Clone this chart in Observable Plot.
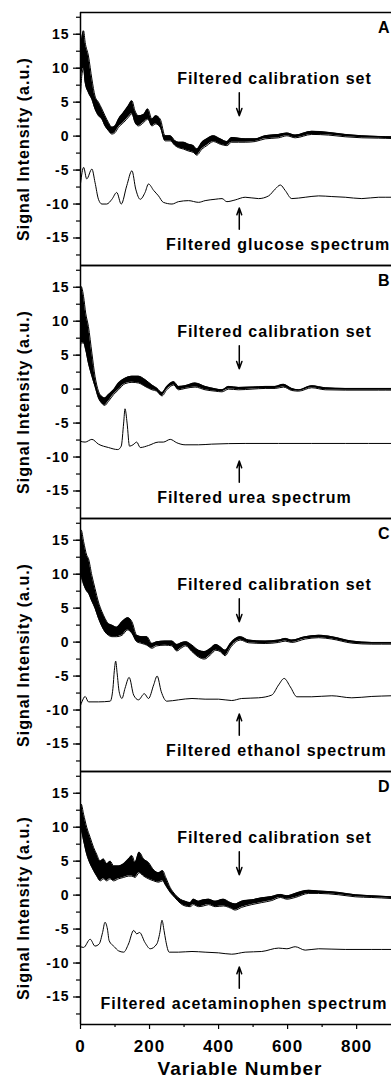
<!DOCTYPE html>
<html><head><meta charset="utf-8">
<script src="https://cdn.jsdelivr.net/npm/d3@7"></script>
<script src="https://cdn.jsdelivr.net/npm/@observablehq/plot@0.6"></script>
<style>
html,body{margin:0;padding:0;background:#fff;}
#chart svg{display:block;}
</style></head><body><div id="chart"></div>
<script>
// ---------- data ----------
const panels = ["A", "B", "C", "D"];
const calibLabel = "Filtered calibration set";
const analyteLabels = ["Filtered glucose spectrum", "Filtered urea spectrum", "Filtered ethanol spectrum", "Filtered acetaminophen spectrum"];
const yTitle = "Signal Intensity (a.u.)";
const xTitle = "Variable Number";
const yMajorTicks = [-15, -10, -5, 0, 5, 10, 15];
const yMinorTicks = [-17.5, -15, -12.5, -10, -7.5, -5, -2.5, 0, 2.5, 5, 7.5, 10, 12.5, 15, 17.5];
const xMajorTicks = [0, 200, 400, 600, 800];
const xMinorTicks = [100, 300, 500, 700];

// Panel A: calibration band (upper / lower envelope) and glucose spectrum
const calA_x = [0,4,9,13.5,23,33,42,52,62,71,81,91,100,110,125,139,149,158,168,183,195,207,218,231,245,260,274,284,298,313,327,337,352,366,385,405,424,438,458,477,506,535,574,598,622,670,719,767,815,864,901];
const calA_hi = [13,14.5,15.5,13.8,11.8,8.4,5.9,5.0,4.0,3.0,2.0,1.3,1.5,2.5,3.5,4.5,5.2,3.7,3.0,3.2,4.0,2.5,3.0,2.5,0.05,0.05,-0.7,-0.9,-0.9,-1.2,-1.4,-1.9,-0.9,-0.4,0.05,-0.4,-0.8,-0.2,-0.3,-0.4,-0.4,0.05,0.25,0.45,0.15,0.7,0.55,0.25,0.05,-0.05,-0.1];
const calA_lo = [6,9,10,7.9,6.4,5.4,4.0,3.0,2.5,1.5,0.8,0.3,0.5,1.3,2.0,2.8,3.3,2.0,1.5,2.0,2.5,1.5,1.8,1.3,-0.7,-0.7,-1.4,-1.7,-1.9,-2.2,-2.4,-2.8,-1.9,-1.4,-0.8,-1.2,-1.4,-0.9,-0.9,-0.9,-0.8,-0.4,-0.25,0.05,-0.25,0.25,0.15,-0.1,-0.25,-0.3,-0.35];
const specA_x = [0,9,18,33,42,52,62,76,91,105,118,134,149,160,173,187,197,212,226,240,265,284,313,342,361,390,410,424,448,477,516,545,564,579,593,612,651,690,728,767,815,864,901];
const specA_y = [-7.0,-4.6,-6.3,-4.85,-6.8,-9.3,-10.0,-10.0,-9.3,-8.3,-10.0,-7.3,-5.1,-7.8,-9.3,-8.3,-7.05,-8.0,-8.8,-9.75,-10.0,-9.65,-9.5,-9.75,-9.5,-9.3,-9.2,-9.65,-9.4,-9.0,-9.2,-8.8,-7.8,-7.2,-8.0,-9.2,-9.0,-8.8,-8.9,-9.0,-9.2,-9.0,-9.0];

// Panel B: calibration band and urea spectrum
const calB_x = [0,2,9,15,23,33,42,52,62,70,81,96,110,129,149,168,187,207,221,236,250,270,284,303,332,361,390,410,429,458,497,535,564,588,612,632,670,709,767,864,901];
const calB_hi = [14,15.1,13.6,11.2,9.2,5.3,1.9,-0.3,-1.1,-1.3,-0.8,-0.1,0.9,1.6,1.9,1.9,1.4,0.6,0.15,-0.5,0.4,1.1,0.4,0.5,0.9,0.4,0.05,-0.1,0.4,0.25,0.3,0.4,0.4,0.7,0.1,-0.1,0.5,0.2,0.1,0.1,0.1];
const calB_lo = [6,6.8,6.8,5.8,3.8,1.9,0.4,-1.3,-2.1,-2.4,-1.8,-0.8,-0.1,0.8,1.0,0.9,0.4,-0.1,-0.3,-1.0,-0.1,0.6,-0.1,0.1,0.3,-0.1,-0.3,-0.4,0.0,-0.1,0.0,0.1,0.1,0.3,-0.2,-0.3,0.2,-0.1,-0.15,-0.15,-0.15];
const specB_x = [0,13.5,33,52,81,108,118,125,129,135,142,152,163,173,197,226,240,260,279,303,342,380,477,574,670,767,901];
const specB_y = [-7.7,-7.8,-7.4,-8.1,-8.6,-8.9,-8.4,-5.0,-2.9,-5.0,-8.4,-8.2,-7.8,-8.6,-8.3,-7.8,-7.8,-7.4,-7.9,-8.2,-8.2,-8.1,-8.0,-8.0,-8.0,-8.0,-8.0];

// Panel C: calibration band and ethanol spectrum
const calC_x = [0,2,9,18,23,33,42,52,62,71,81,91,105,120,137,149,163,178,192,207,221,245,265,279,294,305,323,342,359,376,392,405,419,434,448,463,487,535,574,593,612,651,690,728,786,844,901];
const calC_hi = [16.5,16.5,14.8,12.8,12.3,9.8,7.9,5.9,4.5,3.5,2.7,2.5,2.2,3.0,3.6,3.0,1.0,0.8,0.8,-0.2,0.05,0.15,0.15,-0.35,-0.05,0.05,-0.45,-1.2,-1.4,-0.95,-0.35,-0.7,-1.2,-0.2,0.5,0.8,0.3,0.15,0.3,0.55,0.3,0.8,1.0,0.8,0.15,-0.05,-0.05];
const calC_lo = [8.5,9.5,8.5,7.5,7.2,6.0,5.0,3.5,2.3,1.5,1.0,0.8,0.8,1.0,1.8,1.3,0.05,-0.2,-0.45,-0.9,-0.55,-0.45,-0.55,-1.3,-0.8,-0.55,-1.4,-2.2,-2.5,-1.9,-1.2,-1.4,-2.0,-0.85,-0.05,0.3,-0.1,-0.2,-0.05,0.15,-0.05,0.45,0.65,0.45,-0.15,-0.3,-0.3];
const specC_x = [0,4,13.5,23,52,86,94,98,102,106,112,120,129,141,154,168,185,197,212,222,234,250,284,323,361,400,438,467,516,554,574,590,608,627,670,728,786,844,901];
const specC_y = [-9.3,-8.8,-8.0,-8.8,-8.8,-8.7,-6.8,-4.2,-2.8,-4.5,-7.3,-8.3,-6.8,-5.2,-7.8,-8.5,-7.6,-8.3,-6.3,-5.0,-7.3,-8.7,-8.5,-8.3,-8.4,-8.4,-8.6,-8.3,-8.2,-7.8,-6.3,-5.35,-6.6,-8.05,-8.05,-7.9,-8.2,-8.0,-7.9];

// Panel D: calibration band and acetaminophen spectrum
const calD_x = [0,2,9,18,28,38,47,57,67,76,86,96,110,125,139,149,158,170,183,197,212,226,238,247,260,274,289,303,318,327,342,356,371,390,414,434,448,467,496,525,554,579,598,622,661,690,748,796,844,901];
const calD_hi = [12.5,13.4,11.9,10.0,8.5,7.0,6.0,5.0,5.3,4.6,5.0,4.3,4.3,4.6,5.3,5.8,4.8,6.3,5.3,4.8,3.7,3.3,3.6,2.6,1.1,0.1,-0.6,-0.9,-1.1,-0.6,-0.9,-0.7,-0.6,-0.9,-0.6,-1.1,-1.3,-0.9,-0.7,-0.4,-0.2,0.1,-0.1,0.25,0.7,0.6,0.4,0.05,-0.1,-0.25];
const calD_lo = [7,9.5,8.0,6.0,4.6,3.6,2.8,2.1,2.4,2.1,2.4,2.1,2.4,2.6,2.8,2.8,2.6,3.3,2.8,2.4,2.1,1.9,2.1,1.4,0.4,-0.4,-1.2,-1.6,-1.7,-1.4,-1.7,-1.6,-1.4,-1.7,-1.6,-1.9,-2.2,-1.8,-1.4,-1.1,-0.8,-0.35,-0.6,-0.35,0.25,0.25,0.05,-0.25,-0.35,-0.5];
const specD_x = [0,9,28,42,54,64,71,78,83,98,110,125,139,154,163,171,187,202,221,230,236,242,247,257,284,323,361,400,438,477,525,574,598,622,651,690,767,844,901];
const specD_y = [-7.6,-7.7,-6.5,-7.5,-7.2,-5.5,-4.0,-5.0,-6.7,-7.6,-8.2,-8.4,-7.2,-5.2,-5.7,-5.5,-7.0,-7.9,-7.2,-5.5,-3.7,-5.2,-6.7,-8.4,-8.4,-8.3,-8.4,-8.5,-8.7,-8.4,-8.3,-7.8,-7.9,-7.6,-8.1,-7.9,-8.0,-8.0,-8.0];

// ---------- tables built from the arrays ----------
const bands = {A: [calA_x, calA_hi, calA_lo], B: [calB_x, calB_hi, calB_lo], C: [calC_x, calC_hi, calC_lo], D: [calD_x, calD_hi, calD_lo]};
const specs = {A: [specA_x, specA_y], B: [specB_x, specB_y], C: [specC_x, specC_y], D: [specD_x, specD_y]};
const bandRows = panels.flatMap(p => bands[p][0].map((x, i) => ({panel: p, x, hi: bands[p][1][i], lo: bands[p][2][i]})));
const specRows = panels.flatMap(p => specs[p][0].map((x, i) => ({panel: p, x, y: specs[p][1][i]})));

// ---------- layout (data units) ----------
const yDomain = [-19.05, 18.2];
const analyteStart = [248, 222, 248, 58];
const curve = "monotone-x";

const chart = Plot.plot({
  width: 391,
  height: 1081,
  marginTop: 12,
  marginBottom: 57,
  marginLeft: 80,
  marginRight: 0,
  style: "font-family: 'Liberation Sans', Arial, sans-serif; font-weight: bold; letter-spacing: 1px; background: white; color: black;",
  x: {domain: [0, 901], label: null},
  y: {domain: yDomain, label: null},
  fy: {domain: panels, padding: 0, axis: null, label: null},
  marks: [
    Plot.areaY(bandRows, {x: "x", y1: "lo", y2: "hi", fy: "panel", fill: "black", curve}),
    Plot.line(bandRows, {x: "x", y: "hi", fy: "panel", stroke: "black", strokeWidth: 1, curve}),
    Plot.line(bandRows, {x: "x", y: "lo", fy: "panel", stroke: "black", strokeWidth: 1, curve}),
    Plot.line(specRows, {x: "x", y: "y", fy: "panel", stroke: "black", strokeWidth: 1, curve}),
    Plot.ruleY(yDomain, {stroke: "black", strokeWidth: 1.5}),
    Plot.ruleX([0], {stroke: "black", strokeWidth: 1.5}),
    Plot.axisY(yMinorTicks, {tickSize: 4, tickFormat: () => "", label: null, strokeWidth: 1.2}),
    Plot.axisY(yMajorTicks, {tickSize: 7, tickPadding: 4, tickFormat: d => String(d), fontSize: 14, label: null, strokeWidth: 1.2}),
    Plot.axisX(xMinorTicks, {tickSize: 3, tickFormat: () => "", label: null, strokeWidth: 1.2}),
    Plot.axisX(xMajorTicks, {tickSize: 5, tickPadding: 10, tickFormat: d => String(d), fontSize: 17, label: null, strokeWidth: 1.2}),
    Plot.text(panels, {fy: d => d, text: d => d, frameAnchor: "top-right", dx: -1, dy: 9.5, fontSize: 16}),
    Plot.text(panels, {fy: d => d, x: 562, y: 7.7, text: () => calibLabel, lineAnchor: "bottom", fontSize: 16}),
    Plot.arrow(panels, {fy: d => d, x1: 460, x2: 460, y1: 6.4, y2: 3.0, stroke: "black", strokeWidth: 1.5, headLength: 8, headAngle: 40}),
    Plot.arrow(panels, {fy: d => d, x1: 460, x2: 460, y1: -13.7, y2: -10.6, stroke: "black", strokeWidth: 1.5, headLength: 8, headAngle: 40}),
    Plot.text(panels, {fy: d => d, x: (d, i) => analyteStart[i], y: -16.7, text: (d, i) => analyteLabels[i], textAnchor: "start", lineAnchor: "bottom", fontSize: 16}),
    Plot.text(panels, {fy: d => d, frameAnchor: "left", textAnchor: "middle", lineAnchor: "middle", dx: -57, dy: 10, rotate: -90, text: () => yTitle, fontSize: 16}),
    Plot.text(["D"], {fy: d => d, x: 462, frameAnchor: "bottom", dy: 50, lineAnchor: "bottom", text: () => xTitle, fontSize: 19})
  ]
});
document.getElementById("chart").appendChild(chart);
</script>
</body></html>
